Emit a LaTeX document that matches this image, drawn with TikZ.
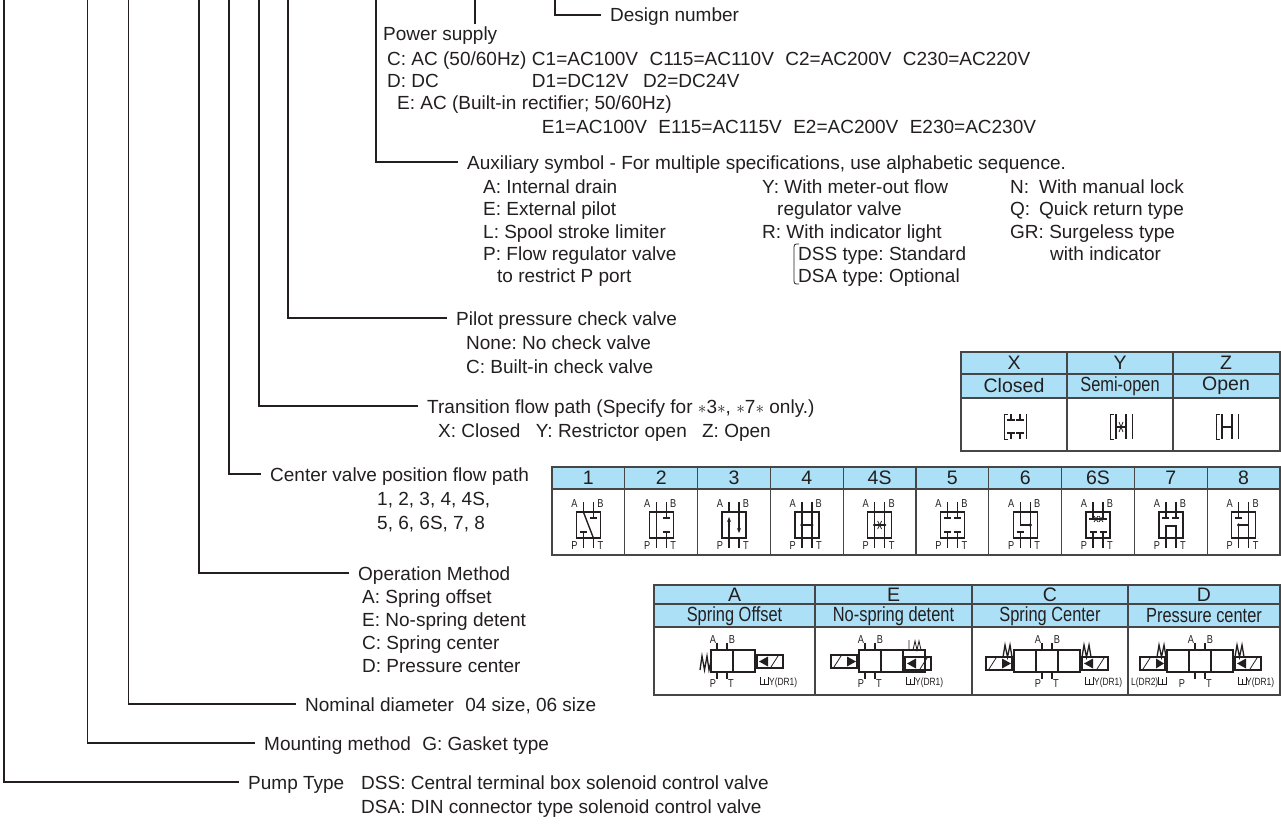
\documentclass[tikz,border=0pt]{standalone}
\usepackage{fontspec}
\setmainfont{Liberation Sans}
\newfontfamily\condfont{Liberation Sans}[FakeStretch=0.8]
\usetikzlibrary{arrows.meta}
\definecolor{ink}{RGB}{35,31,32}
\definecolor{hdr}{RGB}{172,224,246}
\definecolor{rul}{RGB}{70,70,70}
\tikzset{
 txt/.style={anchor=base west, inner sep=0pt, text=ink, font=\fontsize{19}{21}\selectfont},
 lead/.style={draw=ink, line width=1.2pt, shorten >=9pt},
 sym/.style={draw=ink, line width=1.4pt},
 thinl/.style={draw=ink, line width=0.8pt},
 spr/.style={draw=ink, line width=1.3pt, line join=miter},
 lbl/.style={inner sep=0pt, text=ink, font=\condfont\fontsize{11.5}{11.5}\selectfont},
 tiny/.style={inner sep=0pt, text=ink, anchor=west, font=\condfont\fontsize{10.5}{10.5}\selectfont},
 gridl/.style={draw=rul, line width=1.1pt},
 hd/.style={inner sep=0pt, text=ink, font=\fontsize{19.5}{19.5}\selectfont},
 hdc/.style={inner sep=0pt, text=ink, font=\condfont\fontsize{20.5}{20.5}\selectfont},
}
\newcommand\TX[4]{\node[txt] (#1) at (#2,#3+7) {#4};}
\newcommand\TR[4]{\node[txt] (#1) at ([xshift=#2pt]#3.base east) {#4};}
\newcommand\StubTop[2]{\draw[sym] (#1,#2) -- ++(0,6) ++(-3.5,0) -- ++(7,0);}
\newcommand\StubBot[2]{\draw[sym] (#1,#2) -- ++(0,-6) ++(-3.5,0) -- ++(7,0);}
\newcommand\PortDot[2]{\fill[ink] (#1,#2) circle[radius=1.8pt];}
\begin{document}
\frenchspacing
\begin{tikzpicture}[x=1pt,y=-1pt]
\useasboundingbox (0,0) rectangle (1281,824);
\fill[white] (0,0) rectangle (1281,824);

% ---------- texts ----------
\TX{dn}{610}{15}{Design number}
\TX{ps}{383}{34}{Power supply}
\TX{c0}{387}{59}{C: AC (50/60Hz)}
\TR{c1}{5}{c0}{C1=AC100V}
\TR{c2}{11}{c1}{C115=AC110V}
\TR{c3}{11}{c2}{C2=AC200V}
\TR{c4}{11}{c3}{C230=AC220V}
\TX{d0}{387}{81}{D: DC}
\coordinate (dy) at (0,88);
\node[txt] (d1) at (c1.base west |- dy) {D1=DC12V};
\TR{d2}{14}{d1}{D2=DC24V}
\TX{e0}{397}{103}{E: AC (Built-in rectifier; 50/60Hz)}
\coordinate (ey) at (10,133);
\node[txt] (e1) at ([xshift=10pt]c1.base west |- ey) {E1=AC100V};
\TR{e2}{11}{e1}{E115=AC115V}
\TR{e3}{11}{e2}{E2=AC200V}
\TR{e4}{11}{e3}{E230=AC230V}

\TX{aux}{467}{162}{Auxiliary symbol - For multiple specifications, use alphabetic sequence.}
\TX{a1}{483}{186}{A: Internal drain}
\TX{a2}{483}{208}{E: External pilot}
\TX{a3}{483}{231}{L: Spool stroke limiter}
\TX{a4}{483}{253}{P: Flow regulator valve}
\TX{a5}{497}{275}{to restrict P port}
\TX{b1}{762}{186}{Y: With meter-out flow}
\TX{b2}{777}{208}{regulator valve}
\TX{b3}{762}{231}{R: With indicator light}
\TX{b4}{798}{253}{DSS type: Standard}
\TX{b5}{798}{275}{DSA type: Optional}
\draw[thinl] (799,244) .. controls (794,244) .. (794,250) -- (794,278) .. controls (794,284) .. (799,284);
\TX{n0}{1010}{186}{N:}
\TX{n1}{1039}{186}{With manual lock}
\TX{q0}{1010}{208}{Q:}
\TX{q1}{1039}{208}{Quick return type}
\TX{g0}{1010}{231}{GR: Surgeless type}
\TX{g1}{1050}{253}{with indicator}

\TX{pil}{456}{318}{Pilot pressure check valve}
\TX{pil1}{466}{342}{None: No check valve}
\TX{pil2}{466}{366}{C: Built-in check valve}

\TX{tr}{427}{406}{Transition flow path (Specify for $\ast$3$\ast$, $\ast$7$\ast$ only.)}
\TX{tr1}{438}{430}{X: Closed\hspace{10pt} Y: Restrictor open\hspace{10pt} Z: Open}

\TX{cv}{270}{474}{Center valve position flow path}
\TX{cv1}{377}{498}{1, 2, 3, 4, 4S,}
\TX{cv2}{377}{522}{5, 6, 6S, 7, 8}

\TX{om}{358}{573}{Operation Method}
\TX{om1}{362}{596}{A: Spring offset}
\TX{om2}{362}{619}{E: No-spring detent}
\TX{om3}{362}{642}{C: Spring center}
\TX{om4}{362}{665}{D: Pressure center}

\TX{nd}{305}{704}{Nominal diameter\hspace{6pt} 04 size, 06 size}
\TX{mm}{264}{743}{Mounting method\hspace{6pt} G: Gasket type}
\TX{pt}{248}{782}{Pump Type}
\TX{pt1}{361}{782}{DSS: Central terminal box solenoid control valve}
\TX{pt2}{361}{806}{DSA: DIN connector type solenoid control valve}

% ---------- leaders ----------
\coordinate (v1) at (4,0);
\coordinate (v2) at (87.5,0);
\coordinate (v3) at (128.5,0);
\coordinate (v4) at (199,0);
\coordinate (v5) at (229,0);
\coordinate (v6) at (259,0);
\coordinate (v7) at (288,0);
\coordinate (v8) at (376,0);
\coordinate (v9) at (475,0);
\coordinate (v10) at (555,0);
\draw[lead] (v1) |- ([yshift=7pt]pt.base west);
\draw[lead] (v2) |- ([yshift=7pt]mm.base west);
\draw[lead] (v3) |- ([yshift=7pt]nd.base west);
\draw[lead] (v4) |- ([yshift=7pt]om.base west);
\draw[lead] (v5) |- ([yshift=7pt]cv.base west);
\draw[lead] (v6) |- ([yshift=7pt]tr.base west);
\draw[lead] (v7) |- ([yshift=7pt]pil.base west);
\draw[lead] (v8) |- ([yshift=7pt]aux.base west);
\draw[lead, shorten >=3pt] (v9) -- (v9 |- ps.north);
\draw[lead] (v10) |- ([yshift=7pt]dn.base west);

% ---------- table XYZ ----------
\fill[hdr] (961,352) rectangle (1280,398);
\draw[gridl] (961,352) rectangle (1280,451);
\draw[gridl] (961,374) -- (1280,374) (961,398) -- (1280,398) (1067,352) -- (1067,451) (1173,352) -- (1173,451);
\node[hd] (tx) at (1014,363) {X};
\node[hd] (ty) at (1120,363) {Y};
\node[hd] (tz) at (1226,363) {Z};
\node[hd] (tx2) at (1014,386) {Closed};
\node[hdc] (ty2) at (1120,386) {Semi-open};
\node[hd] (tz2) at (1226,386) {Open};
% X closed
\begin{scope}[shift={(1015,0)}]
 \draw[thinl] (-7,414) -- (-11,414) -- (-11,439) -- (-7,439);
 \draw[sym] (-4,414) -- (-4,420) (-8,420) -- (0,420) (-4,439) -- (-4,433) (-8,433) -- (0,433);
 \draw[sym] (5,414) -- (5,420) (1,420) -- (9,420) (5,439) -- (5,433) (1,433) -- (9,433);
 \draw[thinl] (11,414) -- (11,439);
\end{scope}
% Y semi-open
\begin{scope}[shift={(1121,0)}]
 \draw[thinl] (-7,414) -- (-11,414) -- (-11,439) -- (-7,439);
 \draw[sym] (-5,414) -- (-5,439) (5,414) -- (5,439) (-5,427) -- (5,427);
 \draw[thinl] (-2,422) -- (2,432) (-2,432) -- (2,422);
 \draw[thinl] (11,414) -- (11,439);
\end{scope}
% Z open
\begin{scope}[shift={(1227,0)}]
 \draw[thinl] (-7,414) -- (-11,414) -- (-11,439) -- (-7,439);
 \draw[sym] (-5,414) -- (-5,439) (5,414) -- (5,439) (-5,427) -- (5,427);
 \draw[thinl] (11,414) -- (11,439);
\end{scope}

% ---------- table 1..8 ----------
\fill[hdr] (552,467) rectangle (1280,489);
\draw[gridl] (552,467) rectangle (1280,555);
\draw[gridl] (552,489) -- (1280,489);
\foreach \i in {1,...,9} { \draw[gridl] (552+72.8*\i,467) -- (552+72.8*\i,555); }
\foreach \i/\t in {1/1,2/2,3/3,4/4,5/4S,6/5,7/6,8/6S,9/7,10/8} {
  \pgfmathsetmacro\cx{552+72.8*(\i-0.5)}
  \node[hd] (h\i) at (\cx,478) {\t};
  \begin{scope}[shift={(\cx,0)}]
   \draw[sym] (-12,512) rectangle (12,538);
   \draw[sym] (-5,502) -- (-5,512) (5,502) -- (5,512) (-5,538) -- (-5,548) (5,538) -- (5,548);
   \node[lbl] (pa\i) at (-14,504) {A};
   \node[lbl] (pb\i) at (12,504) {B};
   \node[lbl] (pp\i) at (-14,546) {P};
   \node[lbl] (pt\i) at (12,546) {T};
  \end{scope}
}
% patterns
\begin{scope}[shift={(588.4,0)}]
 \draw[sym] (-5,512) -- (5,538); \StubTop{5}{512} \StubBot{-5}{538}
\end{scope}
\begin{scope}[shift={(661.2,0)}]
 \draw[sym] (-5,512) -- (-5,538); \StubTop{5}{512} \StubBot{5}{538}
\end{scope}
\begin{scope}[shift={(734.0,0)}]
 \draw[sym, -{Stealth[length=5pt,width=4pt]}] (-5,538) -- (-5,517);
 \draw[sym, -{Stealth[length=5pt,width=4pt]}] (5,512) -- (5,533);
\end{scope}
\begin{scope}[shift={(806.8,0)}]
 \draw[sym] (-5,512) -- (-5,538) (5,512) -- (5,538) (-5,525) -- (5,525); \PortDot{-5}{525} \PortDot{5}{525}
\end{scope}
\begin{scope}[shift={(879.6,0)}]
 \draw[sym] (-5,512) -- (-5,538) (5,512) -- (5,538) (-5,525) -- (5,525); \PortDot{-5}{525} \PortDot{5}{525}
 \draw[thinl] (-2,521) -- (2,529) (-2,529) -- (2,521);
\end{scope}
\begin{scope}[shift={(952.4,0)}]
 \StubTop{-5}{512} \StubTop{5}{512} \StubBot{-5}{538} \StubBot{5}{538}
\end{scope}
\begin{scope}[shift={(1025.2,0)}]
 \draw[sym] (-5,512) -- (-5,525) -- (5,525) (5,512) -- (5,538); \PortDot{5}{525} \StubBot{-5}{538}
\end{scope}
\begin{scope}[shift={(1098.0,0)}]
 \StubBot{-5}{538} \StubBot{5}{538}
 \draw[sym] (-5,512) -- (-5,519) (5,512) -- (5,519) (-9,519) -- (9,519);
 \draw[thinl] (-4,516) -- (0,522) (-4,522) -- (0,516) (1,516) -- (5,522) (1,522) -- (5,516);
\end{scope}
\begin{scope}[shift={(1170.8,0)}]
 \StubTop{-5}{512} \StubTop{5}{512}
 \draw[sym] (-5,538) -- (-5,526) -- (5,526) -- (5,538);
\end{scope}
\begin{scope}[shift={(1243.6,0)}]
 \StubTop{-5}{512}
 \draw[sym] (5,512) -- (5,538) (-5,538) -- (-5,525) -- (5,525); \PortDot{-5}{525}
\end{scope}

% ---------- operation table ----------
\fill[hdr] (654,585) rectangle (1280,627);
\draw[gridl] (654,585) rectangle (1280,695);
\draw[gridl] (654,604) -- (1280,604) (654,627) -- (1280,627) (815,585) -- (815,695) (972,585) -- (972,695) (1128,585) -- (1128,695);
\node[hd] (oa) at (734.5,595) {A};
\node[hd] (oe) at (893.5,595) {E};
\node[hd] (oc) at (1050,595) {C};
\node[hd] (od) at (1204,595) {D};
\node[hdc] (oa2) at (734.5,616) {Spring Offset};
\node[hdc] (oe2) at (893.5,616) {No-spring detent};
\node[hdc] (oc2) at (1050,616) {Spring Center};
\node[hdc] (od2) at (1204,616) {Pressure center};

% A: spring offset
\draw[spr] (700,670) -- (702,656) -- (704.5,670) -- (707,656) -- (709,670) -- (711,661);
\draw[sym] (711,650) rectangle (733,672) (733,650) rectangle (755,672);
\draw[sym] (717,650) -- (717,643) (727,650) -- (727,643) (717,672) -- (717,679) (727,672) -- (727,679);
\node[lbl] (oaA) at (713,640) {A};
\node[lbl] (oaB) at (732,640) {B};
\node[lbl] (oaP) at (713,684) {P};
\node[lbl] (oaT) at (731,684) {T};
\draw[sym] (757,655) rectangle (783,668);
\fill[ink] (759,661.5) -- (768,656.5) -- (768,666.5) -- cycle;
\draw[thinl] (771,667) -- (778,656);
\draw[thinl] (760,677) -- (760,684) -- (768,684) -- (768,677) (764,684) -- (764,679);
\node[tiny] (oaY) at (769,683) {Y(DR1)};

% E: no-spring detent
\draw[sym] (831,655) rectangle (857,668);
\draw[thinl] (834,667) -- (841,656);
\fill[ink] (856,661.5) -- (847,656.5) -- (847,666.5) -- cycle;
\draw[sym] (859,650) rectangle (881,672) (881,650) rectangle (903,672) (903,650) rectangle (925,672);
\draw[sym] (905,657) rectangle (931,670);
\fill[ink] (907,663.5) -- (916,658.5) -- (916,668.5) -- cycle;
\draw[thinl] (920,669) -- (927,658);
\draw[thinl] (909,650) -- (909,640) (913,650) -- (915,641) -- (917,650) -- (919,641) -- (921,650);
\draw[sym] (865,650) -- (865,643) (875,650) -- (875,643) (865,672) -- (865,679) (875,672) -- (875,679);
\node[lbl] (oeA) at (861,640) {A};
\node[lbl] (oeB) at (880,640) {B};
\node[lbl] (oeP) at (861,684) {P};
\node[lbl] (oeT) at (879,684) {T};
\draw[thinl] (906,677) -- (906,684) -- (914,684) -- (914,677) (910,684) -- (910,679);
\node[tiny] (oeY) at (915,683) {Y(DR1)};

% C: spring center
\draw[sym] (986,657) rectangle (1012,670);
\draw[thinl] (989,669) -- (996,658);
\fill[ink] (1011,663.5) -- (1002,658.5) -- (1002,668.5) -- cycle;
\draw[spr] (1003,657) -- (1005,645) -- (1007.5,657) -- (1010,645) -- (1012,657);
\draw[sym] (1014,650) rectangle (1036,672) (1036,650) rectangle (1058,672) (1058,650) rectangle (1080,672);
\draw[sym] (1042,650) -- (1042,643) (1052,650) -- (1052,643) (1042,672) -- (1042,679) (1052,672) -- (1052,679);
\node[lbl] (ocA) at (1038,640) {A};
\node[lbl] (ocB) at (1057,640) {B};
\node[lbl] (ocP) at (1038,684) {P};
\node[lbl] (ocT) at (1056,684) {T};
\draw[spr] (1082,657) -- (1084,645) -- (1086.5,657) -- (1089,645) -- (1091,657);
\draw[sym] (1082,657) rectangle (1108,670);
\fill[ink] (1084,663.5) -- (1093,658.5) -- (1093,668.5) -- cycle;
\draw[thinl] (1097,669) -- (1104,658);
\draw[thinl] (1085,677) -- (1085,684) -- (1093,684) -- (1093,677) (1089,684) -- (1089,679);
\node[tiny] (ocY) at (1094,683) {Y(DR1)};

% D: pressure center
\node[tiny] (odL) at (1131,683) {L(DR2)};
\draw[thinl] (1158,677) -- (1158,684) -- (1166,684) -- (1166,677) (1162,684) -- (1162,679);
\draw[sym] (1140,657) rectangle (1165,670);
\draw[thinl] (1143,669) -- (1150,658);
\fill[ink] (1164,663.5) -- (1156,658.5) -- (1156,668.5) -- cycle;
\draw[spr] (1157,657) -- (1159,645) -- (1161.5,657) -- (1164,645) -- (1166,657);
\draw[sym] (1167,650) rectangle (1189,672) (1189,650) rectangle (1211,672) (1211,650) rectangle (1233,672);
\draw[sym] (1195,650) -- (1195,643) (1205,650) -- (1205,643) (1195,672) -- (1195,679) (1205,672) -- (1205,679);
\node[lbl] (odA) at (1191,640) {A};
\node[lbl] (odB) at (1210,640) {B};
\node[lbl] (odP) at (1182,684) {P};
\node[lbl] (odT) at (1209,684) {T};
\draw[spr] (1235,657) -- (1237,645) -- (1239.5,657) -- (1242,645) -- (1244,657);
\draw[sym] (1235,657) rectangle (1261,670);
\fill[ink] (1237,663.5) -- (1246,658.5) -- (1246,668.5) -- cycle;
\draw[thinl] (1250,669) -- (1257,658);
\draw[thinl] (1238,677) -- (1238,684) -- (1246,684) -- (1246,677) (1242,684) -- (1242,679);
\node[tiny] (odY) at (1246,683) {Y(DR1)};
\end{tikzpicture}
\end{document}
